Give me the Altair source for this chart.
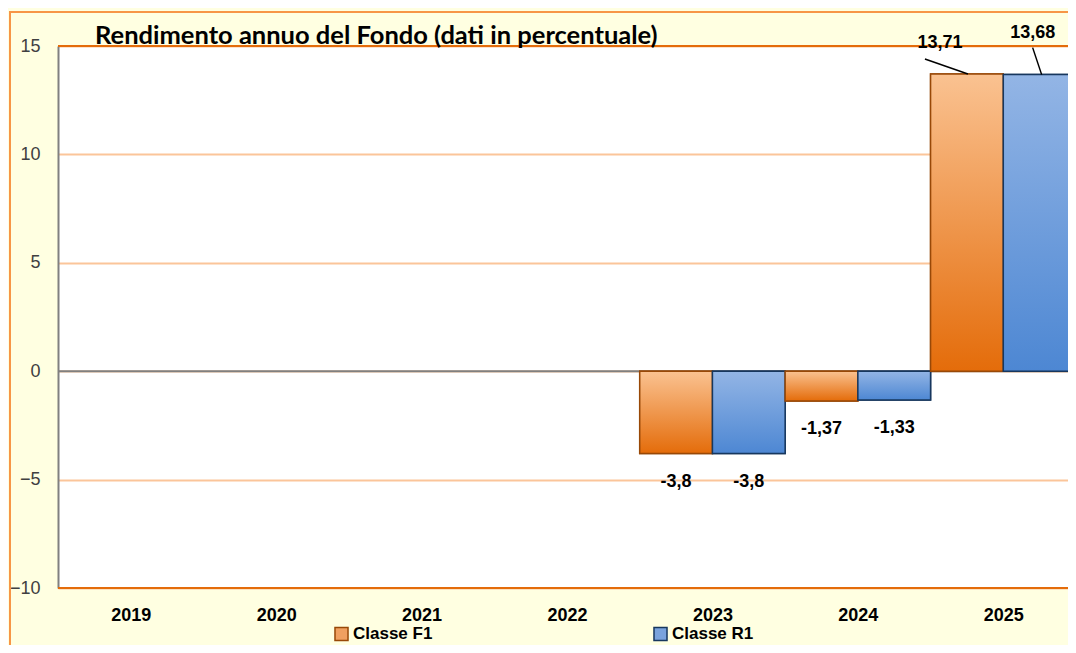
import altair as alt
import pandas as pd

years = ["2019", "2020", "2021", "2022", "2023", "2024", "2025"]
classes = ["Classe F1", "Classe R1"]
f1_values = [None, None, None, None, -3.8, -1.37, 13.71]
r1_values = [None, None, None, None, -3.8, -1.33, 13.68]
y_ticks = [-10, -5, 0, 5, 10, 15]
strong_lines = [15, 0, -10]
strong_colors = ["#E46C0A", "#808080", "#E46C0A"]

rows = []
for i, y in enumerate(years):
    for k, (cls, vals) in enumerate(zip(classes, [f1_values, r1_values])):
        v = vals[i]
        if v is None:
            continue
        x0 = i + 0.5 * k
        rows.append({"year": y, "cls": cls, "value": v,
                     "label": str(v).replace(".", ","),
                     "x0": x0, "x1": x0 + 0.5, "xc": x0 + 0.25})
df = pd.DataFrame(rows)
lines_df = pd.DataFrame({"v": strong_lines, "c": strong_colors})

grad_f1 = {"gradient": "linear", "x1": 0, "x2": 0, "y1": 0, "y2": 1,
           "stops": [{"offset": 0, "color": "#FAC291"}, {"offset": 1, "color": "#E46C0A"}]}
grad_r1 = {"gradient": "linear", "x1": 0, "x2": 0, "y1": 0, "y2": 1,
           "stops": [{"offset": 0, "color": "#93B5E5"}, {"offset": 1, "color": "#4D87D3"}]}

label_expr = "[" + ",".join("'%s'" % y for y in years) + "][floor(datum.value)]"

PLOT_W = 1010
# the last category is partly cut off at the right edge, as in the reference
x_max = len(years) * PLOT_W / 1018

x_enc = alt.X("x0:Q", scale=alt.Scale(domain=[0, x_max], nice=False, zero=False),
              axis=alt.Axis(values=[i + 0.5 for i in range(len(years))], labelExpr=label_expr,
                            domain=False, ticks=False, grid=False, title=None,
                            labelFont="Liberation Sans", labelFontWeight="bold",
                            labelFontSize=18, labelColor="#000000", labelPadding=18))
y_enc = alt.Y("value:Q", scale=alt.Scale(domain=[-10, 15], nice=False),
              axis=alt.Axis(values=y_ticks, grid=True, gridColor="#FBC59A", gridWidth=2,
                            domain=True, domainColor="#808080", domainWidth=2,
                            ticks=False, title=None, labelFont="Liberation Sans",
                            labelFontSize=18, labelColor="#404040", labelPadding=18))

base = alt.Chart(df)

border = alt.Chart(alt.Data(values=[{"a": 1}])).mark_rect(
    fill=None, stroke="#F79646", strokeWidth=2
).encode(x=alt.value(-48), y=alt.value(-34), x2=alt.value(1040), y2=alt.value(640))

strong = alt.Chart(lines_df).mark_rule(strokeWidth=2).encode(
    y=alt.Y("v:Q"), color=alt.Color("c:N", scale=None))

bars_legend = base.mark_bar(strokeWidth=1.5).encode(
    x=x_enc, x2="x1:Q", y=y_enc, y2=alt.datum(0),
    fill=alt.Fill("cls:N", scale=alt.Scale(domain=classes, range=["#F0A060", "#7AA3DC"]),
                  legend=alt.Legend(title=None, orient="none", legendX=275, legendY=579,
                                    direction="horizontal", columnPadding=217,
                                    symbolType="square", symbolSize=170,
                                    symbolStrokeWidth=1.5, labelOffset=3,
                                    labelFont="Liberation Sans", labelFontWeight="bold",
                                    labelFontSize=17, labelColor="#000000")),
    stroke=alt.Stroke("cls:N", scale=alt.Scale(domain=classes, range=["#984807", "#17375E"])))

bars = base.mark_bar(strokeWidth=1.5).encode(
    x="x0:Q", x2="x1:Q", y="value:Q", y2=alt.datum(0),
    fill=alt.condition("datum.cls == 'Classe F1'", alt.value(grad_f1), alt.value(grad_r1)),
    stroke=alt.condition("datum.cls == 'Classe F1'", alt.value("#984807"), alt.value("#17375E")))

text_style = dict(font="Liberation Sans", fontWeight="bold", fontSize=18, color="#000000")

neg_labels = base.transform_filter("datum.value < 0").mark_text(dy=28, **text_style).encode(
    x="xc:Q", y="value:Q", text="label:N")

f1_top = base.transform_filter("datum.value > 0 && datum.cls == 'Classe F1'")
r1_top = base.transform_filter("datum.value > 0 && datum.cls == 'Classe R1'")

f1_lab = f1_top.mark_text(dx=-27, dy=-31, **text_style).encode(x="xc:Q", y="value:Q", text="label:N")
r1_lab = r1_top.mark_text(dx=-7, dy=-42, **text_style).encode(x="xc:Q", y="value:Q", text="label:N")
f1_lead = f1_top.mark_rule(color="#000000", strokeWidth=1.5, xOffset=1, x2Offset=-42, y2Offset=-15).encode(
    x="xc:Q", y="value:Q", x2="xc:Q", y2="value:Q")
r1_lead = r1_top.mark_rule(color="#000000", strokeWidth=1.5, xOffset=2, x2Offset=-7, y2Offset=-27).encode(
    x="xc:Q", y="value:Q", x2="xc:Q", y2="value:Q")

chart = alt.layer(
    border, strong, bars_legend, bars, neg_labels, f1_lead, r1_lead, f1_lab, r1_lab
).properties(
    width=PLOT_W, height=542,
    title=alt.Title("Rendimento annuo del Fondo (dati in percentuale)", anchor="start",
                    frame="group", dx=37, offset=-38, font="Lato", fontWeight="bold",
                    fontSize=25.5, color="#000000"),
    autosize=alt.AutoSizeParams(type="none"),
    padding={"left": 50, "top": 38, "right": 0, "bottom": 57},
    background="#FFFFE1",
).configure_view(fill="#FFFFFF", stroke=None)

chart.save("out.html", embed_options={"renderer": "svg", "actions": False})
